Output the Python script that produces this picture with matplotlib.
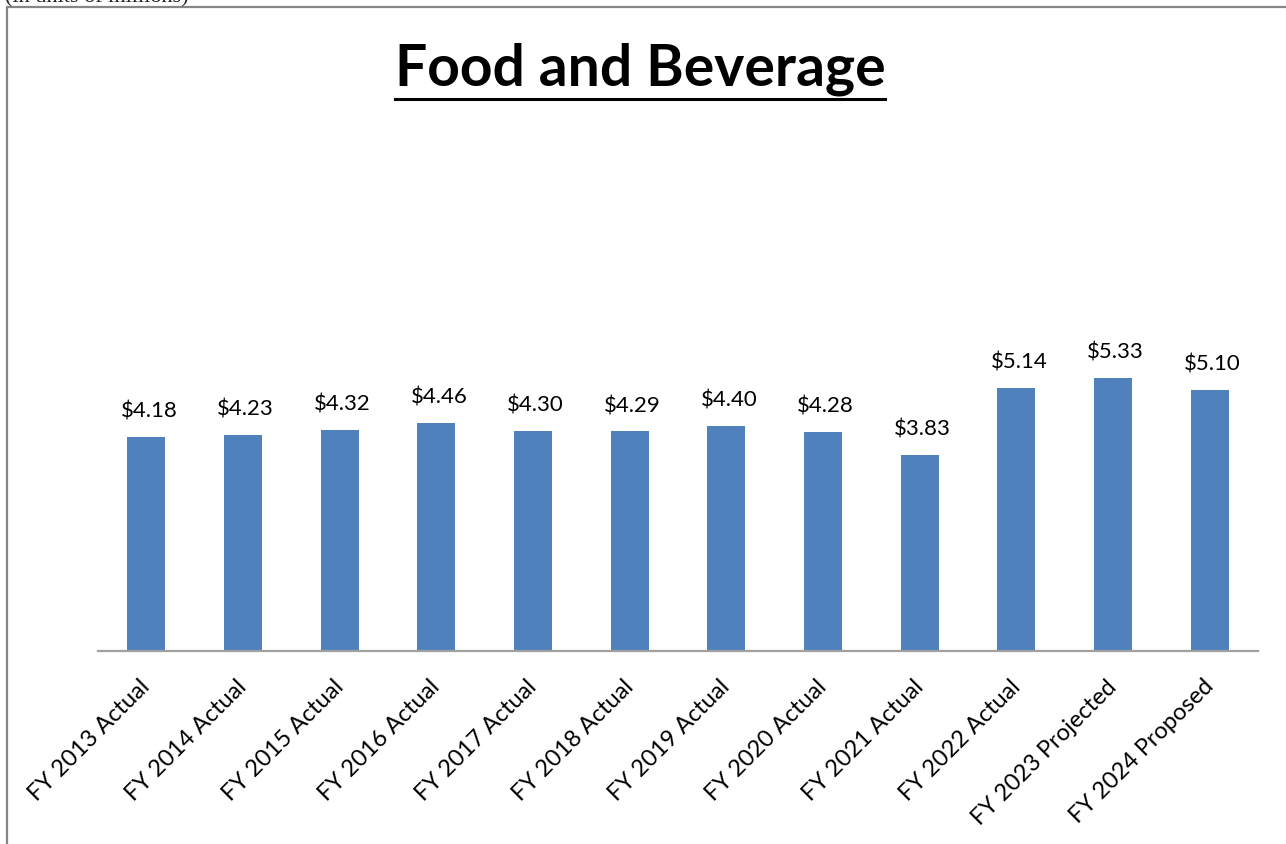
import matplotlib
matplotlib.use("Agg")
import matplotlib.pyplot as plt
from matplotlib.patches import Rectangle
from matplotlib.lines import Line2D
from matplotlib.transforms import ScaledTranslation

categories = ["FY 2013 Actual", "FY 2014 Actual", "FY 2015 Actual", "FY 2016 Actual",
              "FY 2017 Actual", "FY 2018 Actual", "FY 2019 Actual", "FY 2020 Actual",
              "FY 2021 Actual", "FY 2022 Actual", "FY 2023 Projected", "FY 2024 Proposed"]
values = [4.18, 4.23, 4.32, 4.46, 4.30, 4.29, 4.40, 4.28, 3.83, 5.14, 5.33, 5.10]
title = "Food and Beverage"
note = "(in units of millions)"

W, H = 1286, 844
fig = plt.figure(figsize=(W / 100, H / 100), dpi=100)

def fx(px):
    return px / W

def fy(py):
    return 1 - py / H

# outer frame (clipped on the right and bottom)
fig.patches.append(Rectangle((fx(7), -0.5), 2.0, fy(7) + 0.5,
                             transform=fig.transFigure, fill=False,
                             edgecolor="#868686", linewidth=1.6))

fig.text(fx(5), fy(2), note, family="Liberation Serif", fontsize=16,
         ha="left", va="baseline", color="#222222")

ax = fig.add_axes([fx(98), fy(651), fx(1258) - fx(98), (651 - 344) / H])
x = list(range(len(categories)))
ax.bar(x, values, width=0.395, color="#4F81BD", zorder=2)
ax.set_xlim(-0.5, len(categories) - 0.5)
ax.set_ylim(0, 6)
for s in ["top", "right", "left"]:
    ax.spines[s].set_visible(False)
ax.spines["bottom"].set_color("#A0A0A0")
ax.spines["bottom"].set_linewidth(1.6)
ax.set_yticks([])
ax.set_xticks(x)
ax.set_xticklabels(categories, rotation=45, ha="right", va="top", rotation_mode="anchor",
                   family="Lato", fontsize=17, color="#000000")
ax.tick_params(axis="x", length=0, pad=18)
shift = ScaledTranslation(-7 / 100, 0, fig.dpi_scale_trans)
for lab in ax.get_xticklabels():
    lab.set_transform(lab.get_transform() + shift)
for xi, v in zip(x, values):
    ax.annotate(f"${v:.2f}", (xi, v), xytext=(2, 14), textcoords="offset points",
                ha="center", va="baseline", family="Lato", fontsize=16, color="#000000")

t = fig.text(fx(640), fy(85), title, family="Lato", fontweight="bold", fontsize=41,
             ha="center", va="baseline", color="#000000")
fig.canvas.draw()
bb = t.get_window_extent(fig.canvas.get_renderer())
fig.lines.append(Line2D([bb.x0 / W, bb.x1 / W], [fy(99), fy(99)], transform=fig.transFigure,
                        color="#000000", linewidth=2.2))

fig.savefig("out.png", dpi=100)
